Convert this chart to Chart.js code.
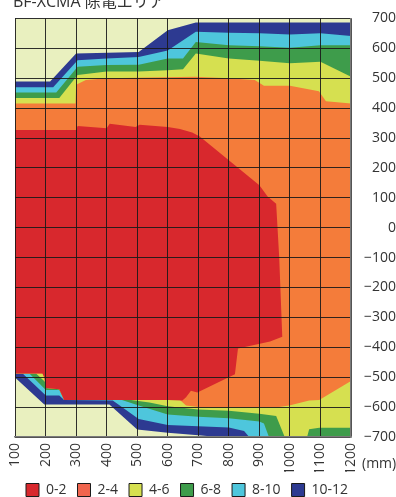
<!DOCTYPE html>
<html>
<head>
<meta charset="utf-8">
<title>除電エリア</title>
<script src="https://cdn.jsdelivr.net/npm/chart.js@4.4.1/dist/chart.umd.min.js"></script>
<style>
  html, body { margin: 0; padding: 0; background: #fff; }
  canvas { display: block; }
</style>
</head>
<body>
<canvas id="area" width="396" height="497"></canvas>
<script>
const TITLE = 'BF-XCMA 除電エリア';
const UNIT_LABEL = '(mm)';

// Axis ranges (mm)
const X_RANGE = [100, 1200];
const Y_RANGE = [-700, 700];
const TICK_STEP = 100;

// Band names, drawn from the innermost zone outwards
const bandLabels = ['0-2', '2-4', '4-6', '6-8', '8-10', '10-12'];
const bandColors = ['#d8282d', '#f47c3a', '#d6e050', '#3e9c4b', '#4ec6dc', '#2d3a91'];
const legendColors = ['#d8282d', '#f0654e', '#d6e050', '#3e9c4b', '#4ec6dc', '#2d3a91'];
const outsideColor = '#e9f0bf';

// Zone boundaries as [x, y] pairs, each running left to right.
// 0-2: upper edge continues down the right-hand side, lower edge closes it.
const redTop = [[100, 327], [300, 327], [305, 340], [400, 333], [410, 348], [495, 337], [508, 344], [600, 337],
  [640, 330], [680, 318], [705, 305], [900, 142], [927, 104], [955, 80], [965, -100], [975, -365]];
const redBottom = [[100, -488], [190, -488], [196, -501], [201, -536], [245, -540], [261, -576], [409, -576],
  [600, -576], [648, -578], [660, -567], [676, -545], [697, -551], [820, -490], [830, -404], [935, -381]];

const orangeTop = [[100, 415], [298, 415], [300, 478], [332, 494], [400, 500], [690, 505], [800, 500], [885, 494],
  [915, 475], [1000, 475], [1095, 456], [1118, 423], [1200, 415]];
const orangeBottom = [[100, -488], [190, -488], [196, -501], [201, -536], [245, -540], [261, -576], [640, -576],
  [660, -595], [700, -600], [965, -600], [998, -595], [1063, -578], [1096, -576], [1200, -513]];

const yellowTop = [[100, 434], [245, 434], [305, 511], [400, 522], [505, 522], [600, 527], [650, 530], [692, 583],
  [800, 566], [900, 558], [1000, 550], [1100, 555], [1200, 505]];
const yellowBottom = [[100, -488], [169, -488], [198, -515], [201, -536], [245, -540], [261, -576], [480, -576],
  [540, -585], [600, -597], [700, -608], [800, -612], [900, -622], [955, -630], [985, -705], [1055, -705],
  [1063, -674], [1096, -669], [1200, -669]];

const greenTop = [[100, 452], [235, 452], [305, 538], [400, 544], [505, 545], [600, 566], [650, 566], [692, 621],
  [800, 610], [900, 607], [1000, 602], [1100, 610], [1200, 610]];
const greenBottom = [[100, -488], [147, -488], [201, -543], [245, -543], [261, -576], [450, -576], [505, -595],
  [600, -625], [700, -632], [800, -637], [900, -648], [915, -655], [935, -710], [1200, -710]];

const cyanTop = [[100, 470], [225, 470], [305, 560], [400, 566], [505, 571], [600, 593], [692, 655], [800, 652],
  [900, 650], [1000, 646], [1100, 650], [1200, 641]];
const cyanBottom = [[100, -488], [125, -488], [201, -561], [245, -561], [261, -576], [420, -578], [505, -640],
  [600, -660], [700, -664], [800, -668], [850, -680], [875, -710], [1200, -710]];

const blueTop = [[100, 489], [215, 489], [300, 583], [505, 588], [600, 660], [692, 686], [1200, 686]];
const blueBottom = [[100, -501], [196, -591], [409, -591], [500, -675], [600, -686], [700, -694], [800, -703],
  [1200, -760]];

const plotFrame = [[100, 700], [1200, 700], [1200, -700], [100, -700]];

// closed outline: top edge left->right, bottom edge right->left
function ring(top, bottom) {
  return top.concat(bottom.slice().reverse()).map(([x, y]) => ({ x, y }));
}

const zones = [
  ring(redTop, redBottom),
  ring(orangeTop, orangeBottom),
  ring(yellowTop, yellowBottom),
  ring(greenTop, greenBottom),
  ring(cyanTop, cyanBottom),
  ring(blueTop, blueBottom)
];

// dataset 0 is painted last, so the inner zones sit on top
const datasets = zones.map((pts, i) => ({
  label: bandLabels[i],
  data: pts,
  fill: 'shape',
  backgroundColor: bandColors[i],
  borderColor: 'transparent',
  borderWidth: 0,
  pointRadius: 0,
  tension: 0
}));
datasets.push({
  label: 'outside',
  data: plotFrame.map(([x, y]) => ({ x, y })),
  fill: 'shape',
  backgroundColor: outsideColor,
  borderColor: 'transparent',
  borderWidth: 0,
  pointRadius: 0,
  tension: 0
});

const textColor = '#333';
const fontFamily = '"Open Sans", "Noto Sans CJK JP", sans-serif';
Chart.defaults.font.family = fontFamily;
Chart.defaults.color = textColor;

const minus = v => (v < 0 ? '\u2212' + Math.abs(v) : String(v));

// title (partly above the canvas) and the unit next to the x ticks
const captions = {
  id: 'captions',
  afterDraw(chart) {
    const { ctx, chartArea } = chart;
    ctx.save();
    ctx.fillStyle = textColor;
    ctx.font = '16px ' + fontFamily;
    ctx.textBaseline = 'alphabetic';
    ctx.fillText(TITLE, 13, 7);
    ctx.font = '14px ' + fontFamily;
    ctx.textBaseline = 'middle';
    ctx.fillText(UNIT_LABEL, chartArea.right + 11, chartArea.bottom + 27);
    ctx.restore();
  }
};

new Chart(document.getElementById('area'), {
  type: 'line',
  data: { datasets },
  options: {
    responsive: false,
    animation: false,
    events: [],
    layout: { padding: { left: 15, top: 12, right: 0, bottom: -10 } },
    scales: {
      x: {
        type: 'linear',
        min: X_RANGE[0],
        max: X_RANGE[1],
        grid: { color: 'rgba(25,25,25,0.9)', lineWidth: 1, drawTicks: false, z: 1 },
        border: { color: '#7a7a7a', width: 1.5, z: 2 },
        ticks: {
          stepSize: TICK_STEP,
          autoSkip: false,
          minRotation: 90,
          maxRotation: 90,
          padding: 6,
          font: { size: 14 },
          callback: v => String(v)
        },
        afterFit: s => { s.height = 35; }
      },
      y: {
        type: 'linear',
        position: 'right',
        min: Y_RANGE[0],
        max: Y_RANGE[1],
        grid: { color: 'rgba(25,25,25,0.9)', lineWidth: 1, drawTicks: false, z: 1 },
        border: { color: '#7a7a7a', width: 1.5, z: 2 },
        ticks: {
          stepSize: TICK_STEP,
          crossAlign: 'far',
          padding: 10,
          font: { size: 14 },
          callback: v => minus(v)
        },
        afterFit: s => { s.width = 45; }
      }
    },
    plugins: {
      tooltip: { enabled: false },
      title: { display: false },
      legend: {
        position: 'bottom',
        align: 'start',
        labels: {
          boxWidth: 13,
          boxHeight: 13,
          padding: 11,
          font: { size: 14 },
          color: textColor,
          generateLabels: () => bandLabels.map((text, i) => ({
            text,
            fillStyle: legendColors[i],
            strokeStyle: '#1a1a1a',
            lineWidth: 1,
            hidden: false,
            datasetIndex: i,
            fontColor: textColor
          }))
        }
      }
    }
  },
  plugins: [captions]
});
</script>
</body>
</html>
